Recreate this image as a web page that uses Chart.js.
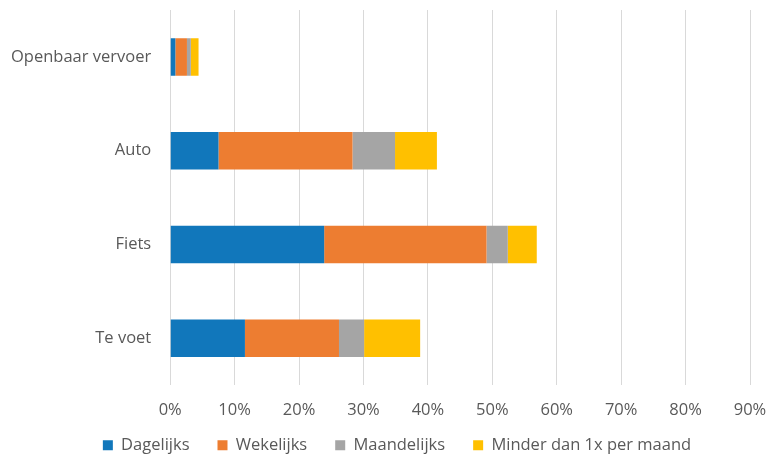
<!DOCTYPE html>
<html>
<head>
<meta charset="utf-8">
<script src="https://cdn.jsdelivr.net/npm/chart.js@4/dist/chart.umd.min.js"></script>
<style>
  html, body { margin: 0; padding: 0; background: #fff; }
  #wrap { width: 769px; height: 456px; }
</style>
</head>
<body>
<div id="wrap"><canvas id="chart"></canvas></div>
<script>
const categories = ['Openbaar vervoer', 'Auto', 'Fiets', 'Te voet'];
const dagelijks = [0.8, 7.5, 23.9, 11.6];
const wekelijks = [1.8, 20.8, 25.2, 14.6];
const maandelijks = [0.6, 6.6, 3.3, 3.9];
const minder = [1.2, 6.5, 4.5, 8.7];
const xTicks = [0, 10, 20, 30, 40, 50, 60, 70, 80, 90];

const textColor = '#595959';
const font = { family: 'Open Sans', size: 16.5 };

// move the legend row closer to the axis labels, like in the Excel original
const legendShift = {
    id: 'legendShift',
    afterLayout(chart) {
        const lg = chart.legend;
        lg.top -= 13;
        lg.left += 22;
        lg.right += 22;
    }
};

new Chart(document.getElementById('chart'), {
    type: 'bar',
    data: {
        labels: categories,
        datasets: [
            { label: 'Dagelijks', data: dagelijks, backgroundColor: '#1177bb' },
            { label: 'Wekelijks', data: wekelijks, backgroundColor: '#ed7d31' },
            { label: 'Maandelijks', data: maandelijks, backgroundColor: '#a5a5a5' },
            { label: 'Minder dan 1x per maand', data: minder, backgroundColor: '#ffc000' }
        ]
    },
    options: {
        indexAxis: 'y',
        responsive: true,
        maintainAspectRatio: false,
        animation: false,
        barPercentage: 0.8,
        categoryPercentage: 0.5,
        layout: { padding: { top: 10, right: 19, left: 0, bottom: -20.5 } },
        scales: {
            x: {
                stacked: true,
                min: 0,
                max: 90,
                afterBuildTicks: axis => { axis.ticks = xTicks.map(v => ({ value: v })); },
                afterFit: axis => {
                    axis.paddingLeft = 0;
                    axis.paddingRight = 0;
                    axis.height = 37;
                },
                ticks: { color: textColor, font: font, callback: v => v + '%', padding: 15 },
                grid: { color: '#d9d9d9', drawTicks: false },
                border: { display: false }
            },
            y: {
                stacked: true,
                afterFit: axis => {
                    axis.paddingTop = 0;
                    axis.paddingBottom = 0;
                },
                ticks: { color: textColor, font: font, padding: 11 },
                grid: { display: false },
                border: { display: false }
            }
        },
        plugins: {
            legend: {
                position: 'bottom',
                labels: { color: textColor, font: font, boxWidth: 10, boxHeight: 10, padding: 28 }
            },
            tooltip: { enabled: false }
        }
    },
    plugins: [legendShift]
});
</script>
</body>
</html>
